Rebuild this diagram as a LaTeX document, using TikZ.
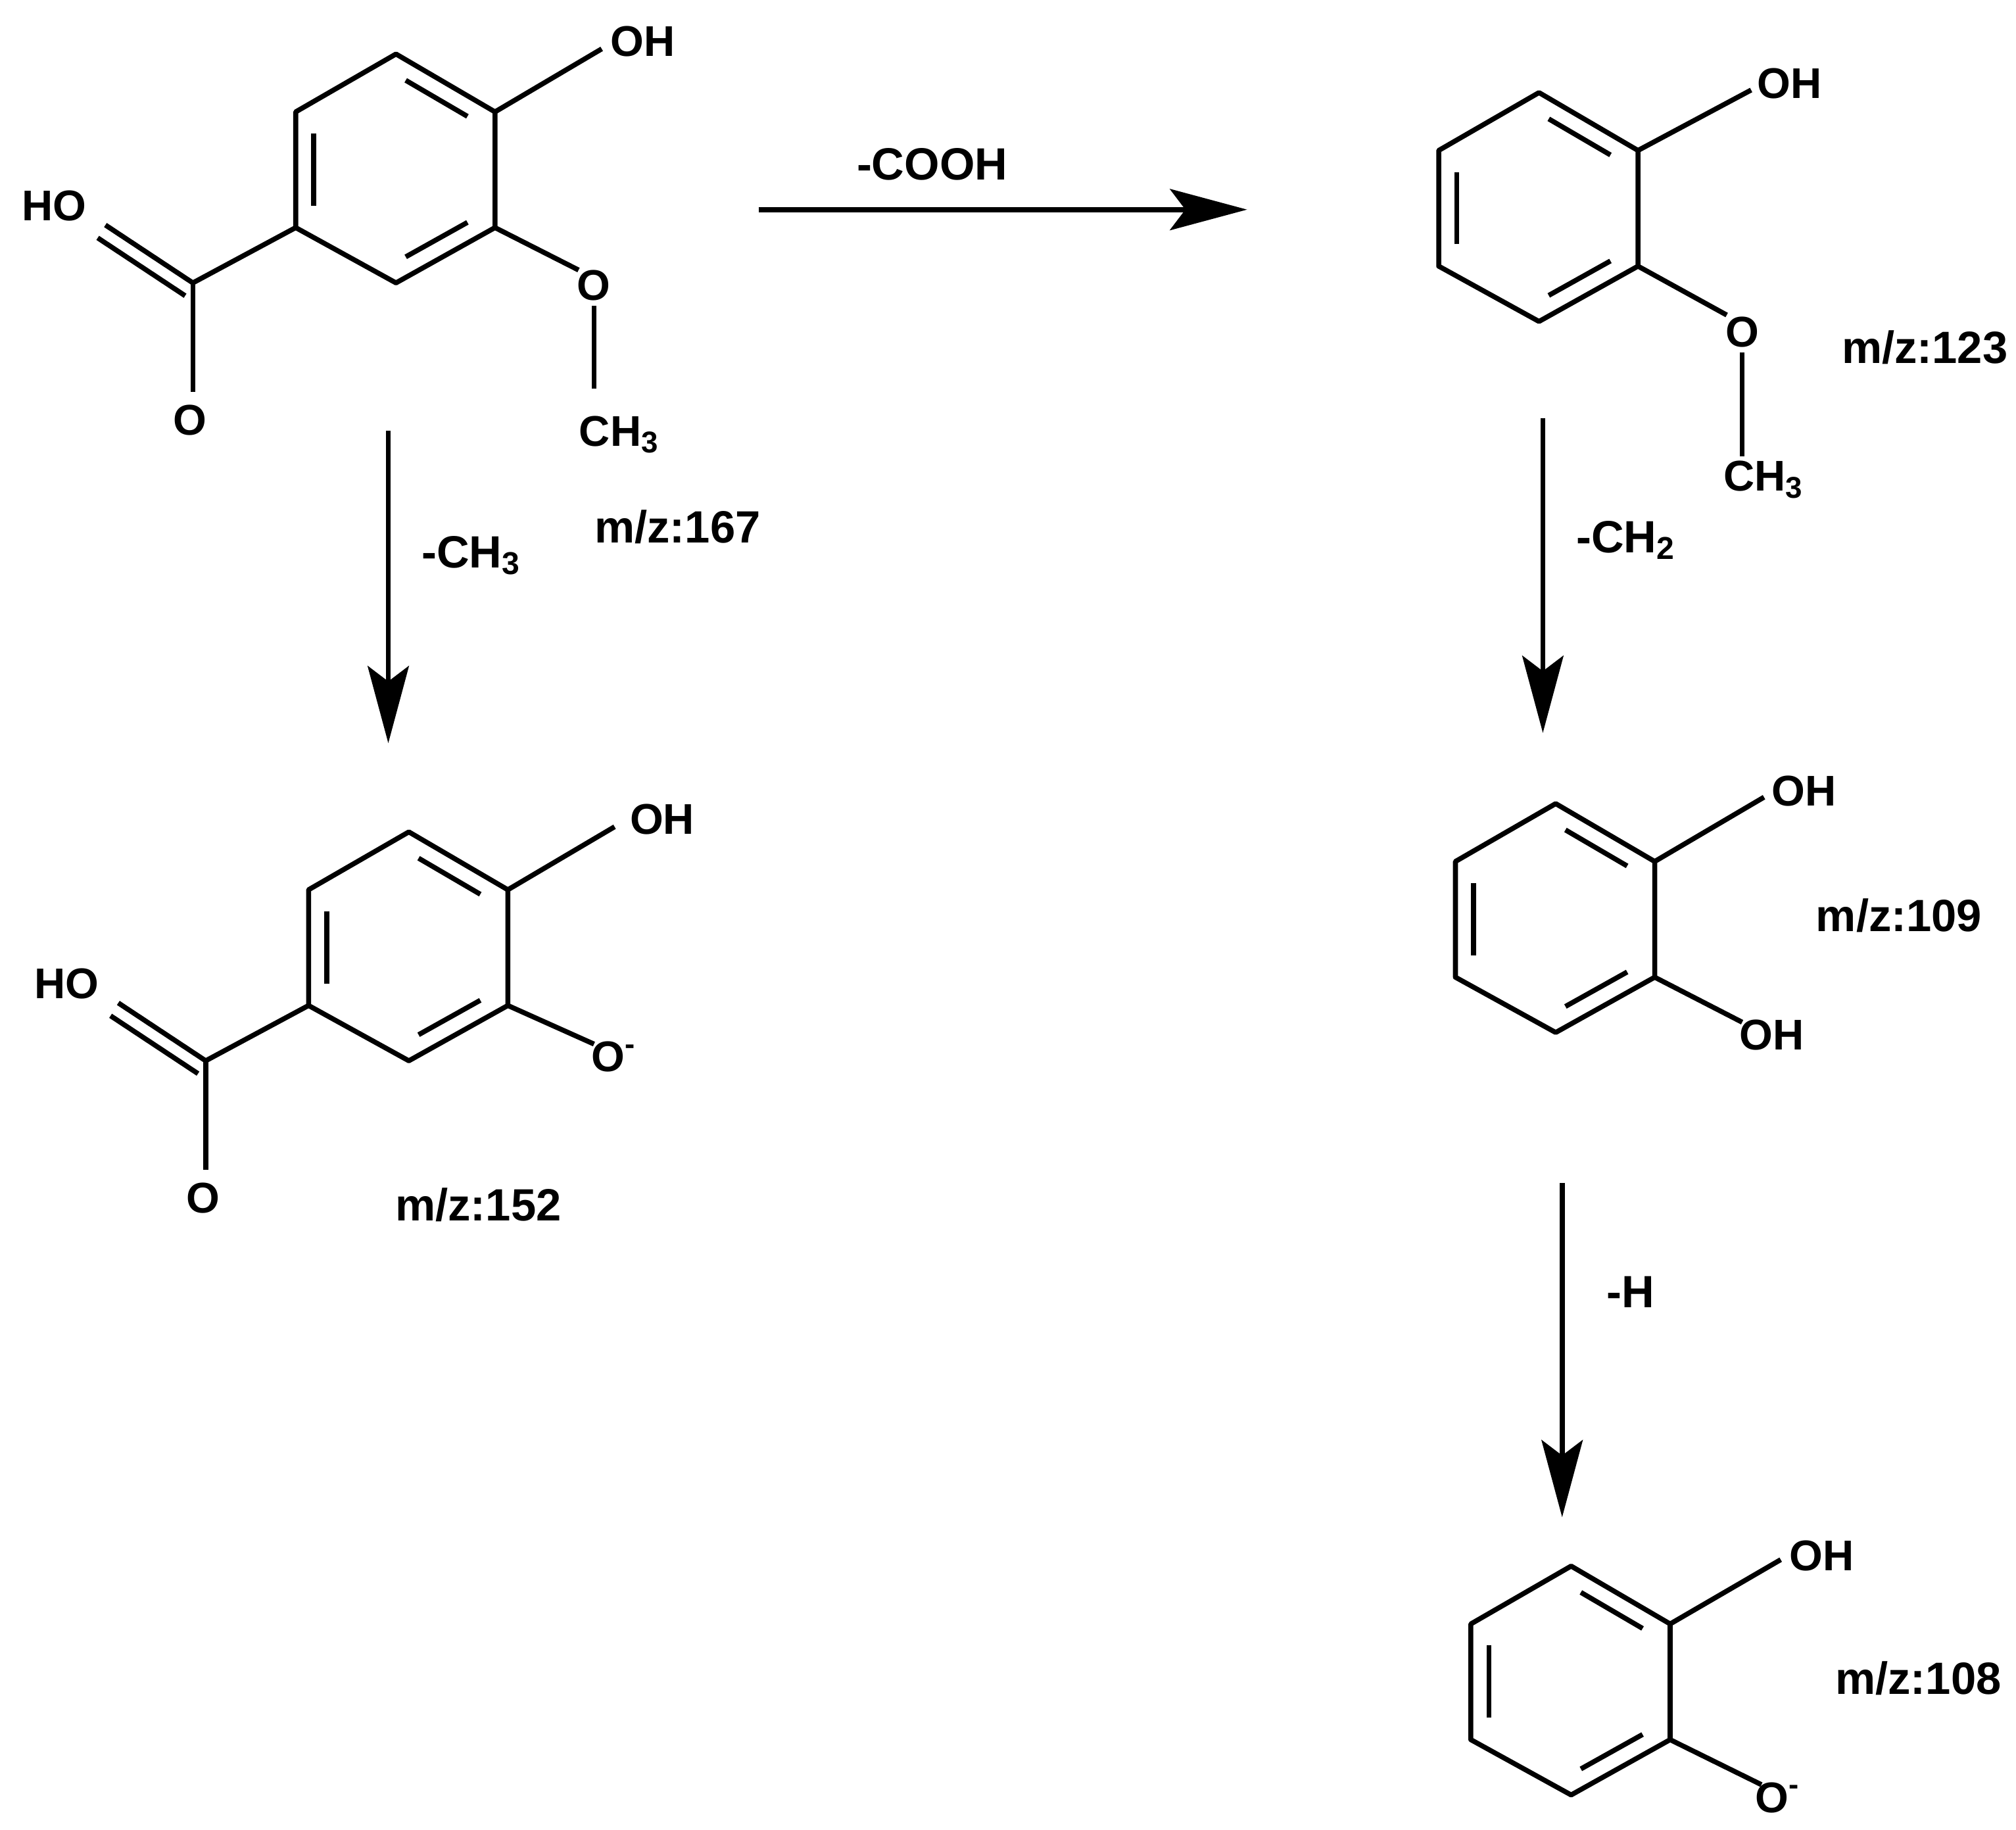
\documentclass[tikz,border=0pt]{standalone}
\usepackage{fontspec}
\setmainfont{Liberation Sans}
\usetikzlibrary{calc,arrows.meta}
\tikzset{bond/.style={line width=1.1pt},
 lab/.style={font=\fontsize{10}{12}\selectfont\bfseries,inner sep=0pt},
 atom/.style={font=\fontsize{9.5}{11}\selectfont\bfseries,inner sep=0pt},
 rxn/.style={line width=1.1pt,-{Stealth[length=0.6cm,width=0.32cm,inset=0.12cm]}}}
\newcommand\innerbond[3]{%
 \coordinate (tmpA) at ($(#1o)!0.82!(#1#2)$);
 \coordinate (tmpB) at ($(#1o)!0.82!(#1#3)$);
 \draw[bond] ($(tmpA)!0.12!(tmpB)$) -- ($(tmpB)!0.12!(tmpA)$);}
\newcommand\benz[3]{%
 \begin{scope}[shift={(#1,#2)}]
 \coordinate (#3a) at (0,0); \coordinate (#3b) at (77,45); \coordinate (#3c) at (77,135);
 \coordinate (#3d) at (0,178); \coordinate (#3e) at (-78,135); \coordinate (#3f) at (-78,45);
 \coordinate (#3o) at (0,89);
 \draw[bond,line join=round] (#3a)--(#3b)--(#3c)--(#3d)--(#3e)--(#3f)--cycle;
 \end{scope}
 \innerbond{#3}{a}{b}\innerbond{#3}{c}{d}\innerbond{#3}{e}{f}}
\begin{document}
\begin{tikzpicture}[x=0.01cm,y=-0.01cm]
\useasboundingbox[fill=white] (0,0) rectangle (1568,1423);
% molecule 1
\benz{308}{42}{m}
\draw[bond] (mb)--(468,38); \node[atom] (m1oh) at (500,32) {OH};
\draw[bond] (mc)--(450,210); \node[atom] (m1o) at (462,222) {O};
\draw[bond] (462,238)--(462,302); \node[atom] (m1me) at (482,338) {CH\textsubscript{3}};
\draw[bond] (me)--(150,220);
\draw[bond] (150,220)--(82,175); \draw[bond] ($(150,220)+(-6,10)$)--($(82,175)+(-6,10)$);
\node[atom] (m1ho) at (42,160) {HO};
\draw[bond] (150,220)--(150,305); \node[atom] (m1o2) at (148,327) {O};
\node[lab] (l167) at (527,410) {m/z:167};
% molecule 2
\benz{318}{647}{n}
\draw[bond] (nb)--(478,643); \node[atom] (m2oh) at (515,637) {OH};
\draw[bond] (nc)--(462,812); \node[atom] (m2om) at (478,822) {O\textsuperscript{-}};
\draw[bond] (ne)--(160,825);
\draw[bond] (160,825)--(92,780); \draw[bond] ($(160,825)+(-6,10)$)--($(92,780)+(-6,10)$);
\node[atom] (m2ho) at (52,765) {HO};
\draw[bond] (160,825)--(160,910); \node[atom] (m2o2) at (158,932) {O};
\node[lab] (l152) at (372,937) {m/z:152};
% molecule 3
\benz{1197}{72}{p}
\draw[bond] (pb)--(1362,70); \node[atom] (m3oh) at (1392,65) {OH};
\draw[bond] (pc)--(1343,245); \node[atom] (m3o) at (1355,258) {O};
\draw[bond] (1355,274)--(1355,355); \node[atom] (m3me) at (1372,373) {CH\textsubscript{3}};
\node[lab] (l123) at (1497,270) {m/z:123};
% molecule 4
\benz{1210}{625}{q}
\draw[bond] (qb)--(1372,620); \node[atom] (m4oh) at (1403,615) {OH};
\draw[bond] (qc)--(1355,795); \node[atom] (m4oh2) at (1378,805) {OH};
\node[lab] (l109) at (1477,712) {m/z:109};
% molecule 5
\benz{1222}{1218}{r}
\draw[bond] (rb)--(1385,1213); \node[atom] (m5oh) at (1417,1210) {OH};
\draw[bond] (rc)--(1370,1388); \node[atom] (m5om) at (1383,1398) {O\textsuperscript{-}};
\node[lab] (l108) at (1492,1305) {m/z:108};
% arrows
\coordinate (a1s) at (590,163); \coordinate (a1e) at (970,163);
\draw[rxn] (a1s)--(a1e); \node[lab] (tcooh) at (725,128) {-COOH};
\coordinate (a2s) at (302,335); \coordinate (a2e) at (302,578);
\draw[rxn] (a2s)--(a2e); \node[lab] (tch3) at (367,432) {-CH\textsubscript{3}};
\coordinate (a3s) at (1200,325); \coordinate (a3e) at (1200,570);
\draw[rxn] (a3s)--(a3e); \node[lab] (tch2) at (1265,420) {-CH\textsubscript{2}};
\coordinate (a4s) at (1215,920); \coordinate (a4e) at (1215,1180);
\draw[rxn] (a4s)--(a4e); \node[lab] (th) at (1268,1005) {-H};
\end{tikzpicture}
\end{document}
